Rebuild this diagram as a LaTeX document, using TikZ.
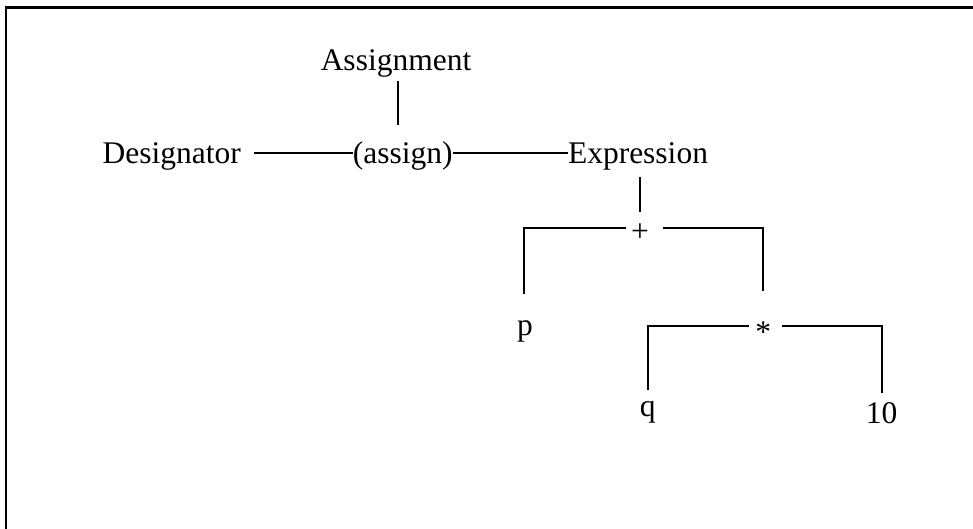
\documentclass[tikz,border=0pt]{standalone}
\usepackage{fontspec}
\setmainfont{Liberation Serif}
\begin{document}
\begin{tikzpicture}[x=1pt,y=-1pt,
  lbl/.style={inner sep=0pt,anchor=base,font=\fontsize{31.5}{38}\selectfont},
  conn/.style={line width=1.8pt,black}]
\useasboundingbox (0,0) rectangle (973,528);
\draw[line width=2.6pt] (6,530) -- (6,7.3) -- (975,7.3);
\node[lbl] (asg) at (396,70.7) {Assignment};
\node[lbl] (des) at (171.7,163.3) {Designator};
\node[lbl] (assign) at (402.8,163.3) {(assign)};
\node[lbl] (expr) at (638,163.3) {Expression};
\node[lbl] (plus) at (640,241) {+};
\node[lbl] (p) at (525,335) {p};
\node[lbl] (times) at (763.3,342) {*};
\node[lbl] (q) at (647.7,416) {q};
\node[lbl] (ten) at (881.7,423) {10};
\draw[conn] ([shift={(2,10)}]asg.base) -- ([shift={(-4.8,-38.3)}]assign.base);
\draw[conn] ([shift={(12.6,-10.6)}]des.base east) -- ([yshift=10.6pt]assign.base west);
\draw[conn] ([yshift=10.6pt]assign.base east) -- ([yshift=10.6pt]expr.base west);
\draw[conn] ([shift={(2,14)}]expr.base) -- ([shift={(0,-28.7)}]plus.base);
\draw[conn] ([shift={(-14.3,-13)}]plus.base) -| ([shift={(-0.7,-40.7)}]p.base);
\draw[conn] ([shift={(22.7,-13)}]plus.base) -| ([shift={(0,-51.3)}]times.base);
\draw[conn] ([shift={(-14,-16.3)}]times.base) -| ([shift={(0,-26)}]q.base);
\draw[conn] ([shift={(18.4,-16.3)}]times.base) -| ([shift={(0,-30.3)}]ten.base);
\end{tikzpicture}
\end{document}
